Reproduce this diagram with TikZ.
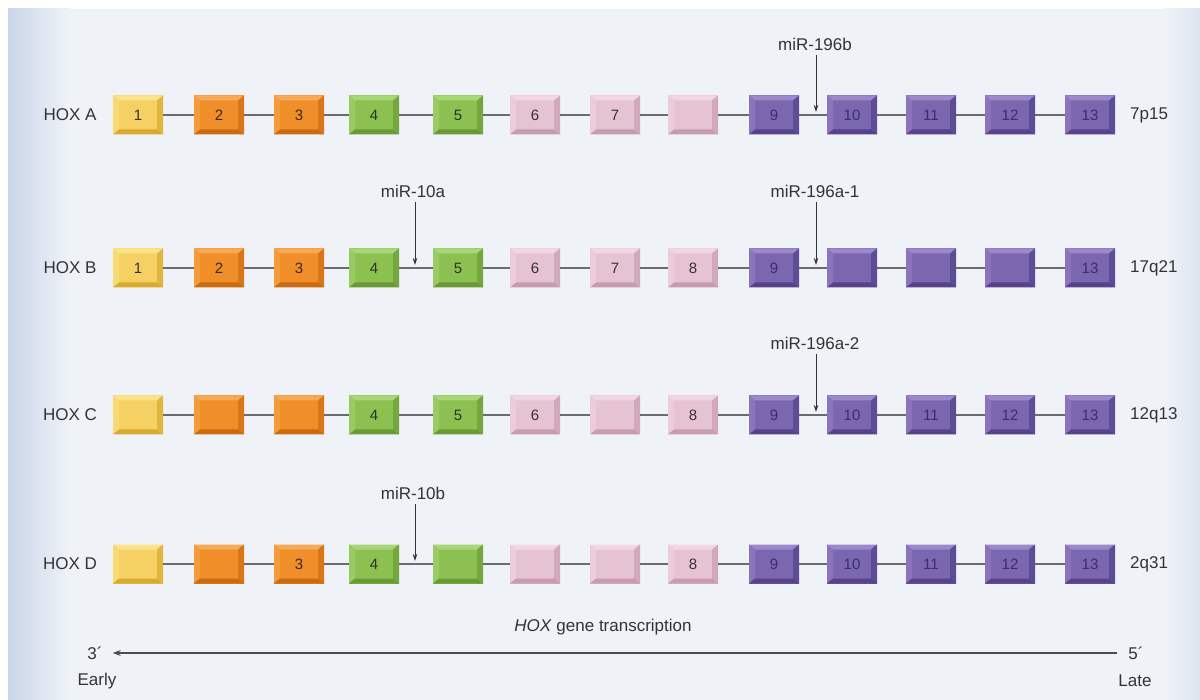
\documentclass[tikz,border=0pt]{standalone}
\usepackage{fontspec}
\setmainfont{Liberation Sans}
\usetikzlibrary{arrows.meta}
\definecolor{bgc}{HTML}{EFF3F8}
\definecolor{bgl}{HTML}{C9D6E8}
\definecolor{bgr}{HTML}{DCE4EF}
\definecolor{txt}{HTML}{333333}
\definecolor{yF}{HTML}{F5D163}\definecolor{yT}{HTML}{FBE38C}\definecolor{yL}{HTML}{F8DA74}\definecolor{yR}{HTML}{E2B63E}\definecolor{yB}{HTML}{D9AA30}\definecolor{yN}{HTML}{333333}
\definecolor{oF}{HTML}{F08E2A}\definecolor{oT}{HTML}{F7AA55}\definecolor{oL}{HTML}{F39C3C}\definecolor{oR}{HTML}{D9761A}\definecolor{oB}{HTML}{CC6A10}\definecolor{oN}{HTML}{3A2A1A}
\definecolor{gF}{HTML}{8CC152}\definecolor{gT}{HTML}{A9D676}\definecolor{gL}{HTML}{9ACB62}\definecolor{gR}{HTML}{74A83E}\definecolor{gB}{HTML}{6A9A36}\definecolor{gN}{HTML}{2A3320}
\definecolor{pF}{HTML}{E6C3D2}\definecolor{pT}{HTML}{F2D7E2}\definecolor{pL}{HTML}{ECCCD9}\definecolor{pR}{HTML}{D2A9BC}\definecolor{pB}{HTML}{C79CB1}\definecolor{pN}{HTML}{3A3036}
\definecolor{uF}{HTML}{7B66B0}\definecolor{uT}{HTML}{9C89CC}\definecolor{uL}{HTML}{8A75BD}\definecolor{uR}{HTML}{5F4C97}\definecolor{uB}{HTML}{56438C}\definecolor{uN}{HTML}{3B2E6E}
\tikzset{
  gbox/.style={rectangle, minimum width=50pt, minimum height=39pt, inner sep=0pt,
    fill=#1F, text=#1N, font=\fontsize{15}{15}\selectfont,
    path picture={
      \path[fill=#1T] (path picture bounding box.north west) -- (path picture bounding box.north east)
        -- ([shift={(-6pt,-5pt)}]path picture bounding box.north east)
        -- ([shift={(6pt,-5pt)}]path picture bounding box.north west) -- cycle;
      \path[fill=#1L] (path picture bounding box.north west) -- ([shift={(6pt,-5pt)}]path picture bounding box.north west)
        -- ([shift={(6pt,5pt)}]path picture bounding box.south west) -- (path picture bounding box.south west) -- cycle;
      \path[fill=#1R] (path picture bounding box.north east) -- ([shift={(-6pt,-5pt)}]path picture bounding box.north east)
        -- ([shift={(-6pt,5pt)}]path picture bounding box.south east) -- (path picture bounding box.south east) -- cycle;
      \path[fill=#1B] (path picture bounding box.south west) -- (path picture bounding box.south east)
        -- ([shift={(-6pt,5pt)}]path picture bounding box.south east)
        -- ([shift={(6pt,5pt)}]path picture bounding box.south west) -- cycle;
    }},
  link/.style={draw=black!58, line width=1.6pt},
  lab/.style={text=txt, font=\fontsize{17}{20}\selectfont, inner sep=0pt},
  mir/.style={draw=txt, line width=0.9pt, -{Stealth[length=7pt,width=4.5pt]}},
  axis/.style={draw=black!70, line width=1.3pt, -{Stealth[length=8pt,width=6pt]}}
}
\begin{document}
\begin{tikzpicture}[x=1pt,y=-1pt]
\useasboundingbox (0,0) rectangle (1200,700);
\fill[white] (0,0) rectangle (1200,700);
\fill[bgc] (8,9) rectangle (1200,700);
\shade[left color=bgl, right color=bgc] (8,9) rectangle (70,700);
\shade[left color=bgc, right color=bgr] (1165,9) rectangle (1200,700);

% Row A
\node[lab] (hA) at (70,115) {HOX A};
\node[gbox=y] (A1) at (138,115) {1};
\node[gbox=o] (A2) at (219,115) {2};
\node[gbox=o] (A3) at (299,115) {3};
\node[gbox=g] (A4) at (374,115) {4};
\node[gbox=g] (A5) at (458,115) {5};
\node[gbox=p] (A6) at (535,115) {6};
\node[gbox=p] (A7) at (615,115) {7};
\node[gbox=p] (A8) at (693,115) {};
\node[gbox=u] (A9) at (774,115) {9};
\node[gbox=u] (A10) at (852,115) {10};
\node[gbox=u] (A11) at (931,115) {11};
\node[gbox=u] (A12) at (1010,115) {12};
\node[gbox=u] (A13) at (1090,115) {13};
\node[lab,anchor=west] (cA) at (1130,115) {7p15};

% Row B
\node[lab] (hB) at (70,268) {HOX B};
\node[gbox=y] (B1) at (138,268) {1};
\node[gbox=o] (B2) at (219,268) {2};
\node[gbox=o] (B3) at (299,268) {3};
\node[gbox=g] (B4) at (374,268) {4};
\node[gbox=g] (B5) at (458,268) {5};
\node[gbox=p] (B6) at (535,268) {6};
\node[gbox=p] (B7) at (615,268) {7};
\node[gbox=p] (B8) at (693,268) {8};
\node[gbox=u] (B9) at (774,268) {9};
\node[gbox=u] (B10) at (852,268) {};
\node[gbox=u] (B11) at (931,268) {};
\node[gbox=u] (B12) at (1010,268) {};
\node[gbox=u] (B13) at (1090,268) {13};
\node[lab,anchor=west] (cB) at (1130,268) {17q21};

% Row C
\node[lab] (hC) at (70,415) {HOX C};
\node[gbox=y] (C1) at (138,415) {};
\node[gbox=o] (C2) at (219,415) {};
\node[gbox=o] (C3) at (299,415) {};
\node[gbox=g] (C4) at (374,415) {4};
\node[gbox=g] (C5) at (458,415) {5};
\node[gbox=p] (C6) at (535,415) {6};
\node[gbox=p] (C7) at (615,415) {};
\node[gbox=p] (C8) at (693,415) {8};
\node[gbox=u] (C9) at (774,415) {9};
\node[gbox=u] (C10) at (852,415) {10};
\node[gbox=u] (C11) at (931,415) {11};
\node[gbox=u] (C12) at (1010,415) {12};
\node[gbox=u] (C13) at (1090,415) {13};
\node[lab,anchor=west] (cC) at (1130,415) {12q13};

% Row D
\node[lab] (hD) at (70,564) {HOX D};
\node[gbox=y] (D1) at (138,564) {};
\node[gbox=o] (D2) at (219,564) {};
\node[gbox=o] (D3) at (299,564) {3};
\node[gbox=g] (D4) at (374,564) {4};
\node[gbox=g] (D5) at (458,564) {};
\node[gbox=p] (D6) at (535,564) {};
\node[gbox=p] (D7) at (615,564) {};
\node[gbox=p] (D8) at (693,564) {8};
\node[gbox=u] (D9) at (774,564) {9};
\node[gbox=u] (D10) at (852,564) {10};
\node[gbox=u] (D11) at (931,564) {11};
\node[gbox=u] (D12) at (1010,564) {12};
\node[gbox=u] (D13) at (1090,564) {13};
\node[lab,anchor=west] (cD) at (1130,564) {2q31};

% links
\foreach \r in {A,B,C,D}{
  \foreach \i [evaluate=\i as \j using int(\i+1)] in {1,...,12}{
    \draw[link] (\r\i) -- (\r\j);
  }
}

% miRNA labels and arrows
\node[lab] (m196b) at (815,44) {miR-196b};
\coordinate (t196b) at (816,112);
\draw[mir] ([yshift=-5pt]m196b.south -| t196b) -- (t196b);

\node[lab] (m10a) at (413,191) {miR-10a};
\coordinate (t10a) at (415,265);
\draw[mir] ([yshift=-5pt]m10a.south -| t10a) -- (t10a);

\node[lab] (m196a1) at (815,191) {miR-196a-1};
\coordinate (t196a1) at (816,265);
\draw[mir] ([yshift=-5pt]m196a1.south -| t196a1) -- (t196a1);

\node[lab] (m196a2) at (815,343) {miR-196a-2};
\coordinate (t196a2) at (816,412);
\draw[mir] ([yshift=-5pt]m196a2.south -| t196a2) -- (t196a2);

\node[lab] (m10b) at (413,493) {miR-10b};
\coordinate (t10b) at (415,561);
\draw[mir] ([yshift=-5pt]m10b.south -| t10b) -- (t10b);

% transcription axis
\node[lab] (tr) at (603,627) {\textit{HOX} gene transcription};
\node[lab] (p3) at (95,653) {3´};
\node[lab] (p5) at (1136,653) {5´};
\draw[axis, shorten <=11pt, shorten >=10pt] (p5) -- (p3);
\node[lab] (early) at (97,681) {Early};
\node[lab] (late) at (1135,681) {Late};
\end{tikzpicture}
\end{document}
